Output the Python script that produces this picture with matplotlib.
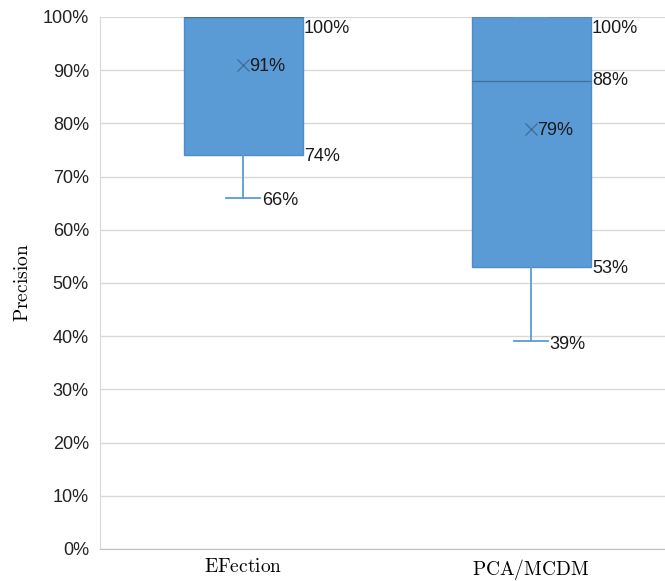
import matplotlib
matplotlib.use("Agg")
import matplotlib.pyplot as plt
from matplotlib.ticker import PercentFormatter

categories = ["EFection", "PCA/MCDM"]
whislo = [66, 39]
q1 = [74, 53]
med = [100, 88]
q3 = [100, 100]
whishi = [100, 100]
means = [91, 79]

plt.rcParams["mathtext.fontset"] = "cm"

fig = plt.figure(figsize=(6.65, 5.81), dpi=100)
ax = fig.add_axes([0.1504, 0.0551, 0.8496, 0.9157])

stats = []
for i in range(len(categories)):
    stats.append({"label": categories[i], "whislo": whislo[i], "q1": q1[i],
                  "med": med[i], "q3": q3[i], "whishi": whishi[i],
                  "mean": means[i], "fliers": []})

pos = [1, 2]
bw = 0.413
ax.bxp(stats, positions=pos, widths=bw, patch_artist=True, showmeans=True,
       boxprops=dict(facecolor="#5b9bd5", edgecolor="#4f8bc9", linewidth=1),
       medianprops=dict(color="#41719c", linewidth=1),
       whiskerprops=dict(color="#5b9bd5", linewidth=1.3),
       capprops=dict(color="#5b9bd5", linewidth=1.3),
       capwidths=0.12,
       meanprops=dict(marker="x", markeredgecolor="#41719c", markersize=8,
                      markeredgewidth=1),
       zorder=3)

ax.set_xlim(0.503, 2.465)
ax.set_ylim(0, 100)
ax.set_yticks(range(0, 101, 10))
ax.yaxis.set_major_formatter(PercentFormatter(decimals=0))
ax.grid(axis="y", color="#d9d9d9", linewidth=1)
ax.set_axisbelow(True)
for s in ["top", "right"]:
    ax.spines[s].set_visible(False)
ax.spines["left"].set_color("#d9d9d9")
ax.spines["bottom"].set_color("#bfbfbf")
ax.tick_params(axis="both", length=0)
ax.tick_params(axis="y", labelsize=13, labelcolor="#222222", pad=8)
for t in ax.get_yticklabels():
    t.set_fontfamily("Liberation Sans")
ax.set_xticks(pos)
ax.set_xticklabels(["$\\mathrm{" + c + "}$" for c in categories], fontsize=14)
ax.tick_params(axis="x", pad=6)
ax.set_ylabel("$\\mathrm{Precision}$", fontsize=14, labelpad=8)

lab = dict(fontsize=13, family="Liberation Sans", va="center", ha="left",
           color="#1a1a1a", zorder=5)
for i, p in enumerate(pos):
    right = p + bw / 2 + 0.005
    ax.text(right, q3[i] - 2.2, "%d%%" % q3[i], **lab)
    if med[i] != q3[i]:
        ax.text(right, med[i], "%d%%" % med[i], **lab)
    ax.text(right, q1[i] - 0.3, "%d%%" % q1[i], **lab)
    ax.text(p + 0.065, whislo[i] - 0.5, "%d%%" % whislo[i], **lab)
    ax.text(p + 0.02, means[i] - 0.3, "%d%%" % means[i], **lab)

fig.savefig("out.png", dpi=100)
